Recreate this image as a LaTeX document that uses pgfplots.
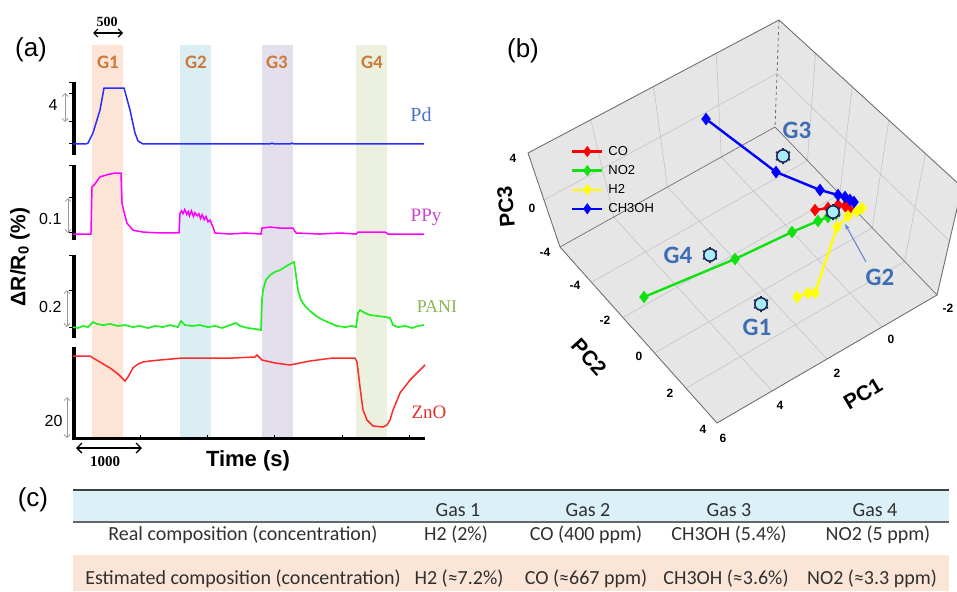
\documentclass[border=0pt]{standalone}
\usepackage{pgfplots}
\pgfplotsset{compat=1.18}
\usepackage{fontspec}
\setmainfont{Liberation Sans}
\newfontfamily\seriffont{Liberation Serif}
\newfontfamily\calfont{Carlito}
\usetikzlibrary{arrows.meta}
\newcommand{\fs}[1]{\fontsize{#1}{#1}\selectfont}
\definecolor{bandA}{HTML}{FCE4D6}
\definecolor{bandB}{HTML}{DAEEF3}
\definecolor{bandC}{HTML}{E4DFEC}
\definecolor{bandD}{HTML}{EBF1DE}
\definecolor{gorange}{HTML}{CC7A3A}
\definecolor{pdline}{HTML}{2B2BFF}
\definecolor{pdlab}{HTML}{4A72C8}
\definecolor{ppyline}{HTML}{FF00FF}
\definecolor{ppylab}{HTML}{CC44CC}
\definecolor{paniline}{HTML}{22EE22}
\definecolor{panilab}{HTML}{8DB255}
\definecolor{znoline}{HTML}{FF2A2A}
\definecolor{znolab}{HTML}{E53030}
\definecolor{scalegray}{HTML}{9A9A9A}
\definecolor{boxgray}{HTML}{E6E6E6}
\definecolor{edgegray}{HTML}{707070}
\definecolor{gridgray}{HTML}{C4C4C4}
\definecolor{glab}{HTML}{3F6DB5}
\definecolor{mkfill}{HTML}{A8EEF8}
\definecolor{mkedge}{HTML}{1F2A5A}
\definecolor{cored}{HTML}{FF0000}
\definecolor{nogreen}{HTML}{11E011}
\definecolor{hyellow}{HTML}{FFFF00}
\definecolor{meblue}{HTML}{0000FF}
\definecolor{hdrblue}{HTML}{DCF0F7}
\definecolor{rowpeach}{HTML}{FBE5D6}
\definecolor{tabtext}{HTML}{303030}
\definecolor{rulegray}{HTML}{404040}
\definecolor{spinecol}{HTML}{000000}
\pgfplotsset{
  trace/.style={anchor=south west, scale only axis, width=352pt,
    xmin=0, xmax=5230, hide x axis, axis y line*=left,
    y axis line style={draw=none}, xtick=\empty, yticklabels={},
    tick align=outside, major tick length=4pt,
    ytick style={line width=1pt,black}, clip=false},
  spn/.style={spinecol, line width=3.2pt, forget plot},
  grd/.style={gridgray, line width=0.6pt, forget plot},
  edg/.style={edgegray, line width=0.9pt, forget plot},
  ser/.style={line width=2.4pt, mark=diamond*, mark size=4.4pt}
}
\begin{document}
\begin{tikzpicture}
\path[use as bounding box] (0pt,0pt) rectangle (957pt,-591pt);

% ---------- panel (a): gas bands ----------
\begin{axis}[at={(73pt,-440pt)}, anchor=south west, scale only axis,
  width=352pt, height=395pt, xmin=0, xmax=5230, ymin=0, ymax=1,
  hide axis, clip=false]
\addplot[fill=bandA, draw=none] coordinates {(282,0) (743,0) (743,1) (282,1)};
\addplot[fill=bandB, draw=none] coordinates {(1590,0) (2051,0) (2051,1) (1590,1)};
\addplot[fill=bandC, draw=none] coordinates {(2808,0) (3269,0) (3269,1) (2808,1)};
\addplot[fill=bandD, draw=none] coordinates {(4205,0) (4665,0) (4665,1) (4205,1)};
\end{axis}

% ---------- Pd ----------
\begin{axis}[trace, at={(73pt,-155pt)}, height=73pt, ymin=-1.52, ymax=8.56,
  ytick={0,3.04,7.04,8.56}]
\addplot[spn] coordinates {(15,-1.52) (15,8.56)};
\addplot[pdline, line width=1.5pt] coordinates {(0,0) (193,0) (223,0.14) (297,1.52)
 (401,4.69) (461,7.73) (758,7.73) (847,4.69) (921,1.52) (966,0.41) (1040,0)
 (2927,0) (2957,0.12) (2987,0) (3224,0) (3254,0.12) (3284,0) (5215,0)};
\end{axis}

% ---------- PPy ----------
\begin{axis}[trace, at={(73pt,-240pt)}, height=75pt, ymin=-0.017, ymax=0.197,
  ytick={0.003,0.103,0.197}]
\addplot[spn] coordinates {(15,-0.017) (15,0.197)};
\addplot[ppyline, line width=1.5pt] coordinates {(0,0) (267,0) (282,0.134) (327,0.143)
 (401,0.163) (505,0.169) (624,0.174) (713,0.174) (728,0.089) (758,0.063) (802,0.031)
 (891,0.011) (1040,0.0057) (1293,0.003) (1575,0.003) (1590,0.06) (1612,0.066)
 (1634,0.058) (1660,0.07) (1690,0.056) (1712,0.064) (1731,0.052) (1760,0.066)
 (1790,0.05) (1812,0.061) (1845,0.052) (1870,0.058) (1895,0.044) (1920,0.055)
 (1950,0.041) (1976,0.05) (2006,0.035) (2036,0.04) (2066,0.026) (2080,0.02)
 (2110,0.003) (2333,0) (2556,0.003)
 (2793,0) (2808,0.017) (2927,0.02) (3076,0.017) (3269,0.017) (3313,0.003) (3670,0)
 (3967,0.003) (4205,0) (4235,0.0057) (4636,0.0057) (4680,0) (5215,0)};
\end{axis}

% ---------- PANI ----------
\begin{axis}[trace, at={(73pt,-338pt)}, height=83pt, ymin=-0.054, ymax=0.3946,
  ytick={0.0054,0.2054,0.3946}]
\addplot[spn] coordinates {(15,-0.054) (15,0.3946)};
\addplot[paniline, line width=1.7pt] coordinates {(0,0.005) (74,0) (149,0.011) (223,0.005)
 (297,0.032) (357,0.022) (446,0.016) (550,0.022) (669,0.011) (773,0.016) (891,0.005)
 (996,0.011) (1114,0) (1218,0.011) (1337,0.005) (1441,0.016) (1560,0.005) (1605,0.038)
 (1664,0.016) (1768,0.011) (1887,0.016) (2006,0.005) (2110,0.011) (2214,0) (2333,0.016)
 (2422,0.027) (2481,0.011) (2600,0) (2704,-0.005) (2793,-0.011) (2808,0.151)
 (2823,0.205) (2867,0.259) (2927,0.286) (3001,0.303) (3076,0.313) (3150,0.33)
 (3224,0.346) (3284,0.357) (3313,0.286) (3343,0.205) (3387,0.151) (3447,0.119)
 (3521,0.092) (3610,0.065) (3715,0.043) (3819,0.027) (3923,0.011) (4041,0.005)
 (4145,0.011) (4205,0.005) (4235,0.081) (4264,0.097) (4338,0.081) (4413,0.07)
 (4532,0.065) (4651,0.059) (4710,0.054) (4755,0.016) (4829,0.005) (4933,0.011)
 (5037,0) (5126,0.011) (5215,0.016)};
\end{axis}

% ---------- ZnO ----------
\begin{axis}[trace, at={(73pt,-440pt)}, height=93pt, ymin=-40.98, ymax=4.39,
  hide x axis=false, axis x line*=bottom, x axis line style={draw=none},
  xtick={0,1000,2000,3000,4000,5000}, xticklabels={},
  tick align=inside, major tick length=5pt, ytick=\empty, xtick style={line width=1.1pt,black}]
\addplot[spn] coordinates {(15,4.39) (15,-40.3) (5230,-40.3)};
\addplot[znoline, line width=1.5pt] coordinates {(0,0) (253,0) (297,-0.98) (401,-2.93)
 (550,-5.85) (669,-8.78) (743,-11.22) (773,-12.2) (817,-10.24) (891,-5.85) (966,-3.9)
 (1040,-2.93) (1144,-2.44) (1293,-1.95) (1634,-0.98) (2377,-0.98) (2704,-0.49)
 (2734,0.49) (2808,-1.95) (3001,-3.41) (3224,-4.39) (3298,-3.9) (3521,-2.44)
 (3863,-0.98) (4190,-0.98) (4220,-2.93) (4264,-15.12) (4309,-26.34) (4368,-31.22)
 (4457,-34.15) (4606,-34.63) (4665,-33.66) (4710,-31.22) (4755,-26.34) (4859,-18.05)
 (5007,-11.71) (5230,-4.39)};
\end{axis}

% ---------- panel (a) annotations ----------
\foreach \x/\g in {108/G1,196/G2,277/G3,372/G4}
  \node[text=gorange, font=\calfont\bfseries\fs{19}] at (\x pt,-62pt) {\g};
\draw[{Straight Barb[length=4pt]}-{Straight Barb[length=4pt]}, line width=1.2pt] (93pt,-33pt) -- (123pt,-33pt);
\node[font=\seriffont\bfseries\fs{14}] at (107pt,-22pt) {500};
\draw[{Straight Barb[length=5pt]}-{Straight Barb[length=5pt]}, line width=1.3pt] (76pt,-448pt) -- (142pt,-448pt);
\node[font=\seriffont\bfseries\fs{15}] at (105pt,-462pt) {1000};
\node[font=\bfseries\fs{22}] at (248pt,-461pt) {Time (s)};
\node[font=\bfseries\fs{21}, rotate=90] at (20pt,-257pt) {ΔR/R\textsubscript{0} (\%)};
\node[font=\fs{26}] at (31pt,-50pt) {(a)};
\foreach \x/\a/\b in {65/93/122,68/198/233,67/290/327,67/397/438}
  \draw[scalegray, line width=0.8pt, {Straight Barb[length=3pt]}-{Straight Barb[length=3pt]}] (\x pt,-\a pt) -- (\x pt,-\b pt);
\node[anchor=east, font=\fs{16}] at (61pt,-105pt) {4};
\node[anchor=east, font=\fs{16}] at (65pt,-219pt) {0.1};
\node[anchor=east, font=\fs{16}] at (65pt,-307pt) {0.2};
\node[anchor=east, font=\fs{16}] at (66pt,-421pt) {20};
\node[text=pdlab, font=\seriffont\fs{20}] at (421pt,-115pt) {Pd};
\node[text=ppylab, font=\seriffont\fs{19}] at (426pt,-217pt) {PPy};
\node[text=panilab, font=\seriffont\fs{18}] at (437pt,-307pt) {PANI};
\node[text=znolab, font=\seriffont\fs{19}] at (429pt,-412pt) {ZnO};

% ---------- panel (b): PCA (projected) ----------
\begin{axis}[at={(480pt,-470pt)}, anchor=south west, scale only axis,
  width=477pt, height=470pt, xmin=480, xmax=957, ymin=0, ymax=470,
  y dir=reverse, hide axis, clip=true,
  legend style={at={(axis cs:571,144)}, anchor=north west, draw=none, fill=none,
    font=\fs{13}, row sep=4.5pt, inner sep=0pt, column sep=3pt},
  legend cell align=left,
  legend image code/.code={\draw[mark repeat=2,mark phase=2,line width=2.2pt,mark size=3.8pt] plot coordinates {(0pt,0pt) (15pt,0pt) (30pt,0pt)};}]
\addplot[fill=boxgray, draw=none, forget plot] coordinates {(528,153) (779,20) (962,187) (937,295) (717,423) (560,247)};
% floor grid
\addplot[grd] coordinates {(591.7,282.2) (807.4,160.6)};
\addplot[grd] coordinates {(623.4,317.4) (839.8,194.2)};
\addplot[grd] coordinates {(655.2,352.6) (872.2,227.8)};
\addplot[grd] coordinates {(686.8,387.8) (904.6,261.4)};
\addplot[grd] coordinates {(772,391) (613.75,217)};
\addplot[grd] coordinates {(827,359) (667.5,187)};
\addplot[grd] coordinates {(882,327) (721.25,157)};
% left wall grid
\addplot[grd] coordinates {(613.75,217) (590.75,119.75)};
\addplot[grd] coordinates {(667.5,187) (653.5,86.5)};
\addplot[grd] coordinates {(721.25,157) (716.25,53.25)};
\addplot[grd] coordinates {(544,200) (777,73.5)};
% right wall grid
\addplot[grd] coordinates {(807.4,160.6) (815.6,53.4)};
\addplot[grd] coordinates {(839.8,194.2) (852.2,86.8)};
\addplot[grd] coordinates {(872.2,227.8) (888.8,120.2)};
\addplot[grd] coordinates {(904.6,261.4) (925.4,153.6)};
\addplot[grd] coordinates {(777,73.5) (949.5,241)};
% box edges
\addplot[edg] coordinates {(560,247) (528,153) (779,20) (962,187) (937,295) (717,423) (560,247)};
\addplot[edg, line width=0.7pt] coordinates {(560,247) (775,127) (937,295)};
\addplot[edg, dashed, line width=0.8pt] coordinates {(779,20) (775,127)};
% series
\addplot[ser, cored] coordinates {(815,210) (828,208) (838,205) (845,206) (849,209)};
\addlegendentry{CO}
\addplot[ser, nogreen] coordinates {(644,297) (735,259) (792,232) (818,221) (828,217) (836,214)};
\addlegendentry{NO2}
\addplot[ser, hyellow] coordinates {(797,297) (808,293) (815,293) (837,227) (848,216) (857,211) (862,208)};
\addlegendentry{H2}
\addplot[ser, meblue] coordinates {(706,119) (776,172) (820,190) (838,195) (845,197) (850,200) (854,202)};
\addlegendentry{CH3OH}
% estimated compositions
\addplot[forget plot, only marks, mark=asterisk, mark size=8pt, mark options={mkedge, line width=1.8pt}]
  coordinates {(761,304) (833,212) (783,156) (710,255)};
\addplot[forget plot, only marks, mark=*, mark size=6.2pt, mark options={fill=mkfill, draw=mkedge, line width=1.6pt}]
  coordinates {(761,304) (833,212) (783,156) (710,255)};
\end{axis}

% ---------- panel (b) text ----------
\node[font=\fs{26}] at (523pt,-51pt) {(b)};
\foreach \x/\y/\t in {513/158/4,532/208/0,545/252/-4,
   575/285/-4,605/320/-2,639/356/0,670/393/2,703/429/4,
   723/438/6,780/405/4,837/373/2,891/339/0,948/308/-2}
  \node[font=\bfseries\fs{12}] at (\x pt,-\y pt) {\t};
\node[font=\bfseries\fs{21}, rotate=95] at (506pt,-207pt) {PC3};
\node[font=\bfseries\fs{21}, rotate=-48] at (589pt,-357pt) {PC2};
\node[font=\bfseries\fs{21}, rotate=31] at (863pt,-394pt) {PC1};
\foreach \x/\y/\g in {757/327/G1,880/277/G2,797/130/G3,678/255/G4}
  \node[text=glab, font=\calfont\bfseries\fs{25}] at (\x pt,-\y pt) {\g};
\draw[-{Stealth[length=6pt]}, glab!80, line width=1.1pt] (866pt,-262pt) -- (845pt,-224pt);

% ---------- panel (c): table ----------
\node[font=\fs{26}] at (33pt,-500pt) {(c)};
\fill[hdrblue] (73pt,-491pt) rectangle (949pt,-522pt);
\fill[rowpeach] (73pt,-555pt) rectangle (949pt,-591pt);
\draw[rulegray, line width=2.4pt] (73pt,-490pt) -- (949pt,-490pt);
\draw[rulegray!80, line width=1.4pt] (73pt,-522pt) -- (949pt,-522pt);
\begin{scope}[every node/.style={anchor=base, text=tabtext, font=\calfont\fs{20}, inner sep=0pt}]
\node at (458pt,-516pt) {Gas 1};
\node at (588pt,-516pt) {Gas 2};
\node at (729pt,-516pt) {Gas 3};
\node at (875pt,-516pt) {Gas 4};
\node at (243pt,-540pt) {Real composition (concentration)};
\node at (456pt,-540pt) {H2 (2\%)};
\node at (586pt,-540pt) {CO (400 ppm)};
\node at (729pt,-540pt) {CH3OH (5.4\%)};
\node at (878pt,-540pt) {NO2 (5 ppm)};
\node at (243pt,-584pt) {Estimated composition (concentration)};
\node at (459pt,-584pt) {H2 (≈7.2\%)};
\node at (586pt,-584pt) {CO (≈667 ppm)};
\node at (726pt,-584pt) {CH3OH (≈3.6\%)};
\node at (872pt,-584pt) {NO2 (≈3.3 ppm)};
\end{scope}
\end{tikzpicture}
\end{document}
